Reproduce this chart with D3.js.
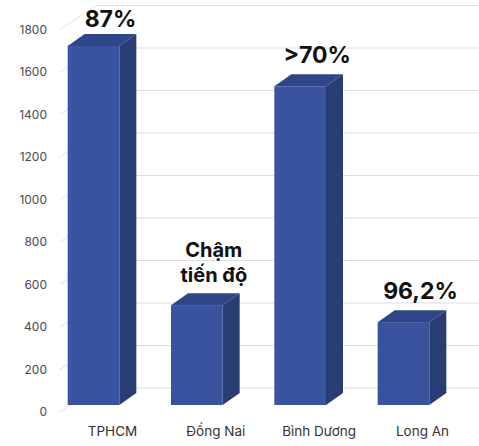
<!DOCTYPE html>
<html>
<head>
<meta charset="utf-8">
<script src="https://cdn.jsdelivr.net/npm/d3@7"></script>
<style>
  html, body { margin: 0; padding: 0; background: #ffffff; }
  svg { display: block; }
</style>
</head>
<body>
<svg id="chart" width="479" height="446"></svg>
<script>
// Data
const categories = ["TPHCM", "Đồng Nai", "Bình Dương", "Long An"];
const values = [1690, 470, 1500, 390];
const annotations = [["87%"], ["Chậm", "tiến độ"], [">70%"], ["96,2%"]];
const yTicks = [0, 200, 400, 600, 800, 1000, 1200, 1400, 1600, 1800];

const svg = d3.select("#chart");
const font = "Inter, 'Open Sans', sans-serif";

// Front edge of the floor (where the axis labels sit)
const axisX = 60;
const y = d3.scaleLinear().domain([0, 1800]).range([412, 29.5]);
const x = d3.scaleBand().domain(categories).range([16, 481]).padding(0.5);

// Depth offsets for the 3D look
const wall = { dx: 36, dy: -24 };   // back wall relative to floor front
const barShift = { dx: 0, dy: -7 }; // front face of the columns
const barDepth = { dx: 17, dy: -12 };

// Back wall gridlines + left wall diagonals
const grid = svg.append("g").attr("stroke", "#dedede").attr("stroke-width", 1).attr("fill", "none");
yTicks.forEach(t => {
  const yf = y(t);
  grid.append("line")
    .attr("x1", axisX).attr("y1", yf)
    .attr("x2", axisX + wall.dx).attr("y2", yf + wall.dy);
  grid.append("line")
    .attr("x1", axisX + wall.dx).attr("y1", yf + wall.dy)
    .attr("x2", 479).attr("y2", yf + wall.dy);
});

// Y axis labels
const yAxis = d3.axisLeft(y).tickValues(yTicks).tickFormat(d3.format("d")).tickSize(0).tickPadding(0);
const ga = svg.append("g").attr("transform", `translate(47,0)`).call(yAxis);
ga.select(".domain").remove();
ga.selectAll("text")
  .attr("font-family", font).attr("font-size", 12)
  .attr("fill", "#4a4a4a");

// Columns
const bars = svg.append("g");
categories.forEach((c, i) => {
  const v = values[i];
  const x0 = x(c) + barShift.dx;
  const x1 = x0 + x.bandwidth();
  const yTop = y(v) + barShift.dy;
  const yBot = y(0) + barShift.dy;
  const dx = barDepth.dx, dy = barDepth.dy;
  // side
  bars.append("path")
    .attr("d", `M${x1},${yTop}L${x1 + dx},${yTop + dy}L${x1 + dx},${yBot + dy}L${x1},${yBot}Z`)
    .attr("fill", "#283d74");
  // top
  bars.append("path")
    .attr("d", `M${x0},${yTop}L${x0 + dx},${yTop + dy}L${x1 + dx},${yTop + dy}L${x1},${yTop}Z`)
    .attr("fill", "#2f4689");
  // front
  bars.append("rect")
    .attr("x", x0).attr("y", yTop)
    .attr("width", x.bandwidth()).attr("height", yBot - yTop)
    .attr("fill", "#3a539f");
});

// Category labels
svg.append("g").selectAll("text").data(categories).join("text")
  .attr("x", d => x(d) + x.bandwidth() / 2 + 19)
  .attr("y", 436)
  .attr("text-anchor", "middle")
  .attr("font-family", font).attr("font-size", 13.5)
  .attr("fill", "#333")
  .text(d => d);

// Annotations above the columns
const ann = svg.append("g");
categories.forEach((c, i) => {
  const lines = annotations[i];
  const cx = x(c) + x.bandwidth() / 2 + 17;
  const topY = y(values[i]) + barShift.dy + barDepth.dy;
  const lh = 25;
  const multi = lines.length > 1;
  const base = Math.max(27, topY - 11);
  lines.forEach((ln, k) => {
    ann.append("text")
      .attr("x", cx)
      .attr("y", base - (lines.length - 1 - k) * lh)
      .attr("text-anchor", "middle")
      .attr("font-family", font)
      .attr("font-size", multi ? 20 : 23)
      .attr("font-weight", 700)
      .attr("fill", "#111")
      .text(ln);
  });
});
</script>
</body>
</html>
